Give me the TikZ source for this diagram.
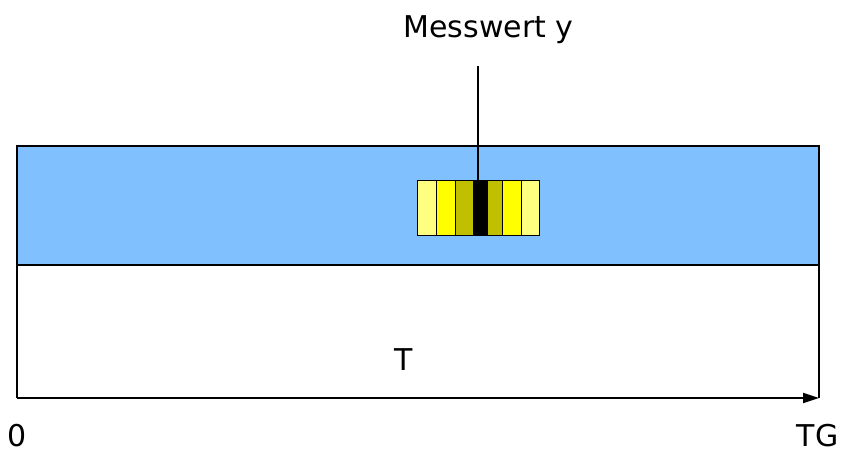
\documentclass[tikz,border=0pt]{standalone}
\usepackage{fontspec}
\setmainfont{DejaVu Sans}
\usetikzlibrary{arrows.meta}
\definecolor{bandblue}{HTML}{80C0FF}
\definecolor{lightyel}{HTML}{FFFF80}
\definecolor{yel}{HTML}{FFFF00}
\definecolor{olive}{HTML}{C0C000}
\tikzset{
  lbl/.style={anchor=base,inner sep=0pt,font=\fontsize{30}{36}\selectfont},
  frame/.style={line width=2pt,black},
  stripe/.style={draw=black,line width=0.8pt}
}
\begin{document}
\begin{tikzpicture}[x=1pt,y=-1pt]
\useasboundingbox (0,0) rectangle (841,450);
% band
\fill[bandblue] (17,146) rectangle (819,265);
% stripes
\draw[stripe,fill=lightyel] (417,180) rectangle (436,235);
\draw[stripe,fill=yel] (436,180) rectangle (455,235);
\draw[stripe,fill=olive] (455,180) rectangle (473,235);
\draw[stripe,fill=black] (473,180) rectangle (487,235);
\draw[stripe,fill=olive] (487,180) rectangle (502,235);
\draw[stripe,fill=yel] (502,180) rectangle (521,235);
\draw[stripe,fill=lightyel] (521,180) rectangle (539,235);
% frame
\coordinate (tl) at (17,146);
\coordinate (tr) at (819,146);
\coordinate (ml) at (17,265);
\coordinate (mr) at (819,265);
\coordinate (bl) at (17,398);
\coordinate (br) at (819,398);
\draw[frame] (bl) -- (tl) -- (tr) -- (br);
\draw[frame] (ml) -- (mr);
\draw[frame,-{Triangle[length=16pt,width=10pt]}] (bl) -- (br);
% labels
\node[lbl] (mw) at (488.5,37.3) {Messwert y};
\node[lbl] (t) at (404,370) {T};
\node[lbl] (zero) at (17.5,446) {0};
\node[lbl] (tg) at (817.5,446) {TG};
% pointer
\coordinate (ptop) at (478,66);
\coordinate (pbot) at (478,180);
\draw[frame] (ptop) -- (pbot);
\end{tikzpicture}
\end{document}
